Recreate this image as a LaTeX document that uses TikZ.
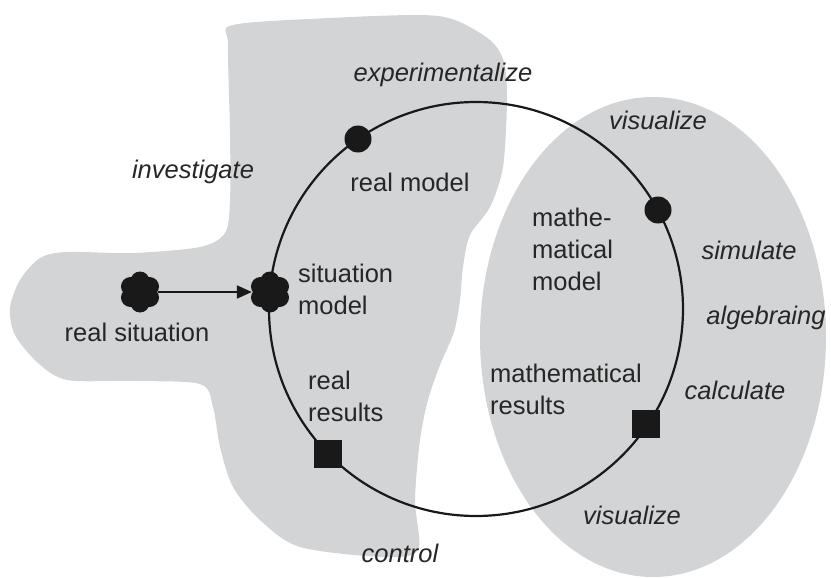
\documentclass[tikz,border=0pt]{standalone}
\usepackage{fontspec}
\setmainfont{Liberation Sans}
\usetikzlibrary{arrows.meta,calc}
\definecolor{blobgray}{RGB}{211,212,214}
\definecolor{ink}{RGB}{25,25,25}
\definecolor{txt}{RGB}{38,38,38}
\tikzset{
  lbl/.style={text=txt, font=\fontsize{25.5}{32}\selectfont, inner sep=0pt},
  act/.style={text=txt, font=\fontsize{25.5}{32}\selectfont\itshape, inner sep=0pt},
  dotnode/.style={circle, fill=ink, minimum size=27pt, inner sep=0pt},
  sqnode/.style={rectangle, fill=ink, minimum size=28pt, inner sep=0pt},
  flnode/.style={circle, minimum size=36pt, inner sep=0pt},
  cycleline/.style={draw=ink, line width=2.2pt},
}
\newcommand{\petals}[1]{%
  \foreach \a in {30,90,...,330}{\fill[ink] ($(#1)+(\a:11pt)$) circle[radius=9.5pt];}
  \fill[ink] (#1) circle[radius=12pt];}
\begin{document}
\begin{tikzpicture}[x=1pt,y=-1pt]
\useasboundingbox (0,0) rectangle (831,578);
% grey regions
\fill[blobgray] plot[smooth cycle, tension=0.5] coordinates {
  (233,25) (330,18) (420,15) (455,20) (490,40) (504,62) (507,100) (503,167)
  (490,207) (470,235) (463,267) (460,300) (454,332) (440,365) (428,400)
  (420,440) (415,500) (418,550) (383,557) (300,547) (260,520) (233,487)
  (220,447) (213,407) (200,384) (130,381) (67,380) (38,363) (15,335) (10,308)
  (20,280) (40,258) (67,252) (133,253) (200,247) (225,233) (230,200)
  (230,133) (228,45)};
\fill[blobgray] (653,337) ellipse[x radius=173, y radius=240];
% cycle
\coordinate (c) at (476,309);
\draw[cycleline] (c) circle[radius=207];
% nodes on the cycle
\node[flnode] (rs) at (140,292) {};
\node[flnode] (sm) at (270,292) {};
\petals{rs}
\petals{sm}
\node[dotnode] (rm) at (358,139) {};
\node[dotnode] (mm) at (658,210) {};
\node[sqnode] (rr) at (328,454) {};
\node[sqnode] (mr) at (646,424) {};
\draw[draw=ink, line width=2.2pt, -{Triangle[length=15pt,width=13pt]}] (rs) -- (sm);
% labels
\node[lbl] (trs) at (137,332) {real situation};
\node[lbl, anchor=west, align=left] (tsm) at (298,289) {situation\\model};
\node[lbl] (trm) at (410,182) {real model};
\node[lbl, anchor=west, align=left] (tmm) at (532,249) {mathe-\\matical\\model};
\node[lbl, anchor=west, align=left] (tmr) at (490,389) {mathematical\\results};
\node[lbl, anchor=west, align=left] (trr) at (308,396) {real\\results};
% activities
\node[act] (a1) at (443,75) {experimentalize};
\node[act] (a2) at (658,120) {visualize};
\node[act] (a3) at (193,172) {investigate};
\node[act] (a4) at (749,250) {simulate};
\node[act] (a5) at (766,318) {algebraing};
\node[act] (a6) at (735,390) {calculate};
\node[act] (a7) at (632,515) {visualize};
\node[act] (a8) at (400,553) {control};
\end{tikzpicture}
\end{document}
